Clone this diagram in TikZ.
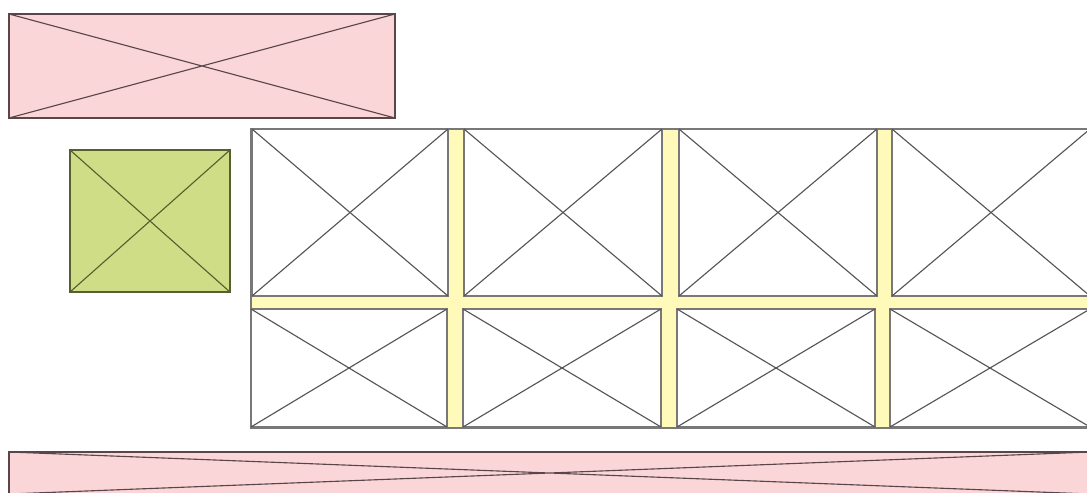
\documentclass[tikz,border=0pt]{standalone}
\usepackage{amsmath}

\definecolor{bannerpink}{RGB}{251,214,217}
\definecolor{bannerline}{RGB}{90,70,72}
\definecolor{logogreen}{RGB}{207,221,134}
\definecolor{logoline}{RGB}{88,94,48}
\definecolor{gutter}{RGB}{255,250,186}
\definecolor{frameline}{RGB}{120,120,120}
\definecolor{crossline}{RGB}{85,85,85}

\tikzset{
  banner/.style={draw=bannerline, fill=bannerpink},
  logo/.style={draw=logoline, fill=logogreen},
  tile/.style={draw=frameline, fill=white},
}

\begin{document}
\begin{tikzpicture}[x=0.025cm, y=-0.025cm, line width=0.8pt]
    \useasboundingbox (0,0) rectangle (1087,493);
    \clip (0,0) rectangle (1087,493);

    % Fejlec (banner)
    \draw[banner] (9,14) rectangle (395,118);
    \draw[bannerline] (9,14) -- (395,118) (9,118) -- (395,14);

    % Logo
    \draw[logo] (70,150) rectangle (230,292);
    \draw[logoline] (70,150) -- (230,292) (70,292) -- (230,150);

    % Racs hattere (sarga elvalasztok)
    \draw[frameline, fill=gutter] (251,129) rectangle (1090,428);

    % Felso sor
    \foreach \xa/\xb in {252/448, 464/662, 679/877, 892/1090} {
        \draw[tile] (\xa,129) rectangle (\xb,296);
        \draw[crossline] (\xa,129) -- (\xb,296) (\xa,296) -- (\xb,129);
    }

    % Also sor
    \foreach \xa/\xb in {251/447, 463/661, 677/875, 890/1090} {
        \draw[tile] (\xa,309) rectangle (\xb,427);
        \draw[crossline] (\xa,309) -- (\xb,427) (\xa,427) -- (\xb,309);
    }

    % Lablec
    \draw[banner] (9,452) rectangle (1090,494);
    \draw[bannerline] (9,452) -- (1090,494) (9,494) -- (1090,452);
\end{tikzpicture}
\end{document}
